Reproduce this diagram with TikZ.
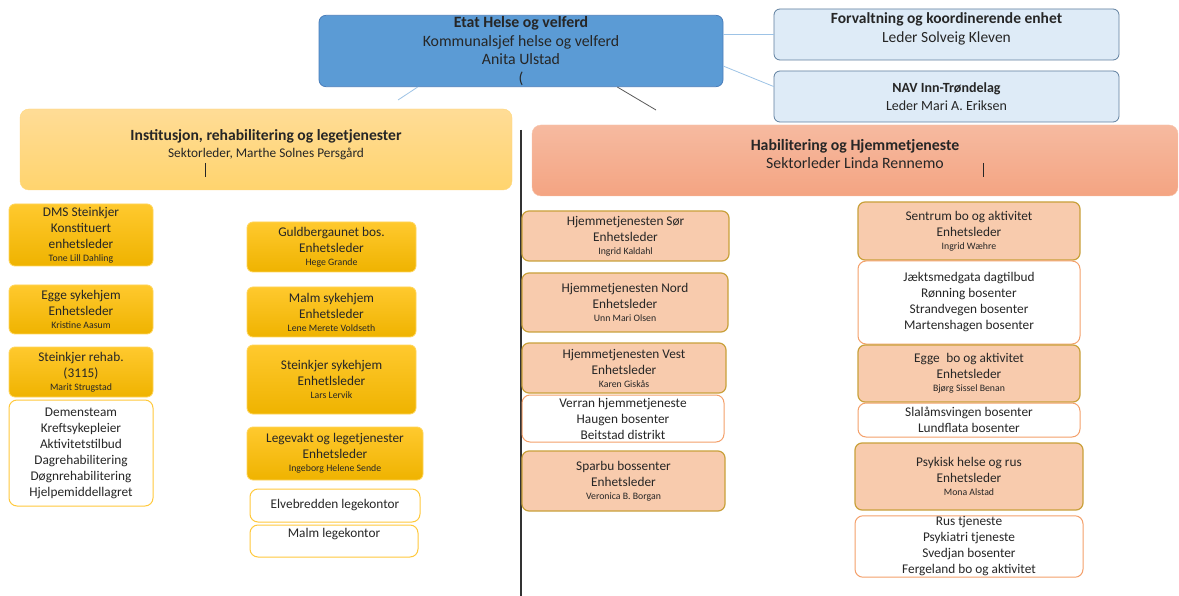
\documentclass[tikz,border=0pt]{standalone}
\usepackage{fontspec}
\setmainfont{Carlito}
\usepackage{xcolor}
\usepackage{tikz}

\definecolor{etatblue}{HTML}{5B9BD5}
\definecolor{etatline}{HTML}{4A7EBB}
\definecolor{stafffill}{HTML}{DEEBF7}
\definecolor{staffline}{HTML}{5F7F9F}
\definecolor{instA}{HTML}{FFDC96}
\definecolor{instB}{HTML}{FFD46E}
\definecolor{instline}{HTML}{FFD77A}
\definecolor{habA}{HTML}{F6BAA0}
\definecolor{habB}{HTML}{F4A482}
\definecolor{habline}{HTML}{F7C4AA}
\definecolor{goldA}{HTML}{FFC92E}
\definecolor{goldB}{HTML}{EFB300}
\definecolor{goldline}{HTML}{FFD55A}
\definecolor{peach}{HTML}{F8CBAD}
\definecolor{peachline}{HTML}{C9A13B}
\definecolor{yellowline}{HTML}{FFC93C}
\definecolor{orangeline}{HTML}{F4A06B}
\definecolor{linkblue}{HTML}{9DC3E6}
\definecolor{ink}{HTML}{262626}

\newcommand{\navn}[1]{{\fontsize{9.8}{11}\selectfont #1}}

\tikzset{
  etat/.style={draw=etatline, fill=etatblue, rounded corners=7pt, line width=0.8pt,
    font=\fontsize{15.8}{18.7}\selectfont},
  staff/.style={draw=staffline, fill=stafffill, rounded corners=6pt, line width=0.8pt,
    font=\fontsize{15.5}{19}\selectfont},
  sektorA/.style={draw=instline, top color=instA, bottom color=instB, rounded corners=9pt,
    font=\fontsize{13.3}{17}\selectfont},
  sektorB/.style={draw=habline, top color=habA, bottom color=habB, rounded corners=9pt,
    font=\fontsize{15.8}{18}\selectfont},
  unitA/.style={draw=goldline, top color=goldA, bottom color=goldB, rounded corners=6pt,
    line width=0.8pt},
  unitB/.style={draw=peachline, fill=peach, rounded corners=7pt, line width=1.2pt},
  listA/.style={draw=yellowline, fill=white, rounded corners=8pt, line width=1pt},
  listB/.style={draw=orangeline, fill=white, rounded corners=8pt, line width=1pt},
  bluelink/.style={draw=linkblue, line width=0.8pt},
  graylink/.style={draw=black!65, line width=0.8pt}
}

\begin{document}
\begin{tikzpicture}[x=1pt, y=-1pt,
    every node/.style={align=center, inner sep=1pt, text=ink,
      font=\fontsize{13.3}{16}\selectfont}]
  \useasboundingbox[fill=white] (0,0) rectangle (1179,596);

  % top level
  \node[etat, minimum width=404, minimum height=70] (etat) at (521,51)
    {\textbf{Etat Helse og velferd}\\Kommunalsjef helse og velferd\\Anita Ulstad\\(};
  \node[staff, minimum width=345, minimum height=51] (forv) at (946.5,34.5)
    {\textbf{Forvaltning og koordinerende enhet}\\Leder Solveig Kleven\\[-6pt]~};
  \node[staff, minimum width=345, minimum height=51, font=\fontsize{14}{18}\selectfont] (nav) at (946.5,96.5)
    {\textbf{NAV Inn-Trøndelag}\\Leder Mari A. Eriksen};

  \draw[bluelink] (etat.east |- forv.west) -- (forv.west);
  \draw[bluelink] ([yshift=21pt]etat.south east) -- ([yshift=10pt]nav.west);

  % sectors
  \node[sektorA, minimum width=492, minimum height=81] (inst) at (266,149.5)
    {{\fontsize{15.6}{17}\selectfont\bfseries Institusjon, rehabilitering og legetjenester}\\Sektorleder, Marthe Solnes Persgård\\[-6pt]~};
  \node[sektorB, minimum width=646, minimum height=71] (habil) at (855,160.5)
    {\textbf{Habilitering og Hjemmetjeneste}\\Sektorleder Linda Rennemo\\[-4pt]~};

  \coordinate (c1) at (398,100);
  \coordinate (c2) at (656,110);
  \draw[bluelink] ([xshift=99pt]etat.south west) -- (c1);
  \draw[graylink] ([xshift=-106pt]etat.south east) -- (c2);

  \coordinate (vtop) at (521,130);
  \coordinate (vbot) at (521,596);
  \draw[black!80, line width=1.4pt] (vtop) -- (vbot);
  \draw[black!85, line width=1pt] (205,163) -- (205,177);
  \draw[black!85, line width=1pt] (983,163) -- (983,177);

  % institusjon, column 1
  \node[unitA, minimum width=144, minimum height=62] (dms) at (81,235)
    {DMS Steinkjer\\Konstituert\\enhetsleder\\[-3pt]\navn{Tone Lill Dahling}};
  \node[unitA, minimum width=144, minimum height=49] (egge) at (81,309.5)
    {Egge sykehjem\\Enhetsleder\\[-3pt]\navn{Kristine Aasum}};
  \node[unitA, minimum width=144, minimum height=50] (rehab) at (81,372)
    {Steinkjer rehab.\\(3115)\\[-3pt]\navn{Marit Strugstad}};
  \node[listA, minimum width=144, minimum height=106] (dmslist) at (81,453)
    {Demensteam\\Kreftsykepleier\\Aktivitetstilbud\\Dagrehabilitering\\Døgnrehabilitering\\Hjelpemiddellagret};

  % institusjon, column 2
  \node[unitA, minimum width=169, minimum height=50] (guld) at (331.5,247)
    {Guldbergaunet bos.\\Enhetsleder\\[-3pt]\navn{Hege Grande}};
  \node[unitA, minimum width=169, minimum height=50] (malm) at (331.5,312)
    {Malm sykehjem\\Enhetsleder\\[-3pt]\navn{Lene Merete Voldseth}};
  \node[unitA, minimum width=169, minimum height=69] (sykehjem) at (331.5,379.5)
    {Steinkjer sykehjem\\Enhetlsleder\\[-3pt]\navn{Lars Lervik}};
  \node[unitA, minimum width=176, minimum height=53] (legevakt) at (335,453.5)
    {Legevakt og legetjenester\\Enhetsleder\\[-3pt]\navn{Ingeborg Helene Sende}};
  \node[listA, minimum width=170, minimum height=33] (elve) at (335,505.5)
    {Elvebredden legekontor};
  \node[listA, minimum width=168, minimum height=32, text depth=16pt] (malmlege) at (334,541)
    {Malm legekontor};

  % habilitering, column 1
  \node[unitB, minimum width=207, minimum height=50] (sor) at (625.5,236)
    {Hjemmetjenesten Sør\\Enhetsleder\\[-3pt]\navn{Ingrid Kaldahl}};
  \node[unitB, minimum width=206, minimum height=59] (nord) at (625,302.5)
    {Hjemmetjenesten Nord\\Enhetsleder\\[-3pt]\navn{Unn Mari Olsen}};
  \node[unitB, minimum width=204, minimum height=50] (vest) at (624,368)
    {Hjemmetjenesten Vest\\Enhetsleder\\[-3pt]\navn{Karen Giskås}};
  \node[listB, minimum width=202, minimum height=47] (verran) at (623,418.5)
    {Verran hjemmetjeneste\\Haugen bosenter\\Beitstad distrikt};
  \node[unitB, minimum width=203, minimum height=60] (sparbu) at (623.5,481)
    {Sparbu bossenter\\Enhetsleder\\[-3pt]\navn{Veronica B. Borgan}};

  % habilitering, column 2
  \node[unitB, minimum width=222, minimum height=58] (sentrum) at (969,231)
    {Sentrum bo og aktivitet\\Enhetsleder\\[-3pt]\navn{Ingrid Wæhre}};
  \node[listB, minimum width=222, minimum height=83] (jakt) at (969,302.5)
    {Jæktsmedgata dagtilbud\\Rønning bosenter\\Strandvegen bosenter\\Martenshagen bosenter};
  \node[unitB, minimum width=222, minimum height=57] (eggebo) at (969,373.5)
    {Egge\enspace bo og aktivitet\\Enhetsleder\\[-3pt]\navn{Bjørg Sissel Benan}};
  \node[listB, minimum width=222, minimum height=34] (slalam) at (969,420)
    {Slalåmsvingen bosenter\\Lundflata bosenter};
  \node[unitB, minimum width=228, minimum height=67] (psyk) at (969,476.5)
    {Psykisk helse og rus\\Enhetsleder\\[-3pt]\navn{Mona Alstad}};
  \node[listB, minimum width=228, minimum height=61] (rus) at (969,546.5)
    {Rus tjeneste\\Psykiatri tjeneste\\Svedjan bosenter\\Fergeland bo og aktivitet};
\end{tikzpicture}
\end{document}
